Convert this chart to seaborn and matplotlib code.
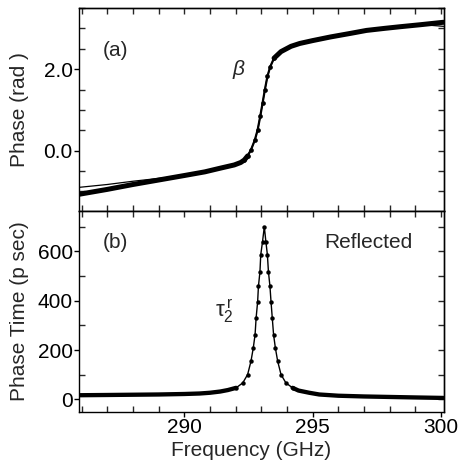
import matplotlib
matplotlib.use("Agg")
import numpy as np
import pandas as pd
import matplotlib.pyplot as plt
import seaborn as sns
from matplotlib.ticker import MultipleLocator

# ---- data ----
freq_phase = [285.9, 287.0, 288.0, 289.0, 290.0, 290.8, 291.4, 291.95, 292.2, 292.34,
              292.47, 292.6, 292.75, 292.86, 292.96, 293.05, 293.14, 293.24, 293.35,
              293.5, 293.77, 294.16, 294.5, 295.0, 295.7, 296.5, 297.1, 297.8, 298.4,
              299.2, 300.1]
phase = [-1.07, -0.95, -0.83, -0.72, -0.61, -0.52, -0.43, -0.35, -0.29, -0.23,
         -0.13, 0.02, 0.26, 0.51, 0.84, 1.16, 1.49, 1.82, 2.06,
         2.27, 2.43, 2.56, 2.63, 2.70, 2.79, 2.88, 2.95, 3.00, 3.04,
         3.09, 3.15]

freq_fit = [285.9, 287.0, 288.0, 289.0, 290.0, 291.0, 291.95, 292.34, 292.6, 292.75,
            292.86, 292.96, 293.05, 293.14, 293.24, 293.35, 293.5, 293.77, 294.16,
            294.5, 295.7, 297.1, 298.4, 299.5, 300.1]
phase_fit = [-0.90, -0.83, -0.75, -0.68, -0.61, -0.48, -0.34, -0.23, 0.02, 0.26,
             0.51, 0.84, 1.16, 1.49, 1.82, 2.06, 2.27, 2.43, 2.56,
             2.63, 2.79, 2.95, 3.03, 3.08, 3.05]

freq_tau = [285.9, 287.0, 288.0, 289.0, 290.0, 290.6, 291.0, 291.4, 291.7, 292.02,
            292.28, 292.47, 292.60, 292.69, 292.76, 292.80, 292.86, 292.89, 292.95,
            292.98, 293.05, 293.12, 293.18, 293.24, 293.28, 293.34, 293.38, 293.43,
            293.48, 293.55, 293.64, 293.77, 293.96, 294.22, 294.45, 294.87, 295.26,
            296.0, 297.0, 298.0, 299.0, 300.1]
tau = [17, 18, 19, 20, 22, 24, 27, 32, 38, 47,
       67, 101, 155, 209, 263, 330, 397, 458, 518,
       586, 640, 700, 640, 586, 518, 458, 397, 330,
       263, 209, 155, 101, 67, 47, 36, 27, 20,
       15, 12, 10, 8, 6]

x_ticks = [290, 295, 300]
phase_ticks = [0.0, 2.0]
phase_ticklabels = ["0.0", "2.0"]
tau_ticks = [0, 200, 400, 600]

# ---- style ----
sns.set_style("ticks")
plt.rcParams['font.family'] = ['Liberation Sans', 'DejaVu Sans']
plt.rcParams['mathtext.fontset'] = 'custom'
plt.rcParams['mathtext.rm'] = 'Liberation Sans'
plt.rcParams['mathtext.it'] = 'Liberation Sans:italic'
plt.rcParams['axes.linewidth'] = 1.0
plt.rcParams['lines.solid_capstyle'] = 'round'
plt.rcParams['lines.solid_joinstyle'] = 'round'

FS = 15
W, H = 463, 466
fig = plt.figure(figsize=(W / 100, H / 100), dpi=100)
L, Rr = 79 / W, 444 / W
ax1 = fig.add_axes([L, 1 - 211 / H, Rr - L, (211 - 8) / H])
ax2 = fig.add_axes([L, 1 - 412 / H, Rr - L, (412 - 211) / H])

df_p = pd.DataFrame({"f": freq_phase, "phase": phase})
df_fit = pd.DataFrame({"f": freq_fit, "phase": phase_fit})
df_t = pd.DataFrame({"f": freq_tau, "tau": tau})

# top panel: thin fit line + measured (thick where dense, dotted on steep part)
sns.lineplot(data=df_fit, x="f", y="phase", ax=ax1, color="k", linewidth=0.9,
             legend=False)
for part in (df_p[df_p.f <= 292.47], df_p[df_p.f >= 293.5]):
    sns.lineplot(data=part, x="f", y="phase", ax=ax1, color="k", linewidth=3.6,
                 legend=False)
steep = df_p[(df_p.f >= 292.34) & (df_p.f <= 293.5)]
sns.lineplot(data=steep, x="f", y="phase", ax=ax1, color="k", linewidth=1.6,
             marker="o", markersize=3.4, markeredgewidth=0, legend=False)

# bottom panel
for part in (df_t[df_t.f <= 292.02], df_t[df_t.f >= 294.22]):
    sns.lineplot(data=part, x="f", y="tau", ax=ax2, color="k", linewidth=3.1,
                 legend=False)
peak = df_t[(df_t.f >= 292.02) & (df_t.f <= 294.22)]
sns.lineplot(data=peak, x="f", y="tau", ax=ax2, color="k", linewidth=1.0,
             marker="o", markersize=3.2, markeredgewidth=0, legend=False)

xlim = (285.9, 300.12)
for ax in (ax1, ax2):
    ax.set_xlim(*xlim)
    ax.set_xticks(x_ticks)
    ax.xaxis.set_minor_locator(MultipleLocator(1))
    ax.tick_params(axis="both", which="major", direction="out", length=3.5,
                   width=1.0, labelsize=FS, pad=1, colors="k")
    ax.tick_params(axis="both", which="minor", direction="in", length=4.5,
                   width=1.0)
    for s in ax.spines.values():
        s.set_visible(True)
        s.set_color("k")
    # inward ticks on the top and right sides
    sx = ax.secondary_xaxis("top")
    sx.set_xticks(x_ticks)
    sx.xaxis.set_minor_locator(MultipleLocator(1))
    sx.tick_params(which="both", direction="in", length=4.5, width=1.0,
                   labeltop=False)
    sy = ax.secondary_yaxis("right")
    sy.tick_params(which="both", direction="in", length=4.5, width=1.0,
                   labelright=False)
    ax._sy = sy

ax1.set_ylim(-1.48, 3.5)
ax1.set_yticks(phase_ticks)
ax1.set_yticklabels(phase_ticklabels)
ax1.yaxis.set_minor_locator(MultipleLocator(0.5))
ax1._sy.set_yticks(phase_ticks)
ax1._sy.yaxis.set_minor_locator(MultipleLocator(0.5))
ax1.tick_params(axis="x", labelbottom=False)
ax1.set_xlabel("")
ax1.set_ylabel("Phase (rad )", fontsize=FS)
ax1.yaxis.set_label_coords(-0.138, 0.5)

ax2.set_ylim(-51, 764)
ax2.set_yticks(tau_ticks)
ax2.yaxis.set_minor_locator(MultipleLocator(100))
ax2._sy.set_yticks(tau_ticks)
ax2._sy.yaxis.set_minor_locator(MultipleLocator(100))
ax2.set_xticklabels([str(t) for t in x_ticks])
ax2.set_xlabel("Frequency (GHz)", fontsize=FS)
ax2.xaxis.set_label_coords(0.471, -0.145)
ax2.set_ylabel("Phase Time (p sec)", fontsize=FS)
ax2.yaxis.set_label_coords(-0.138, 0.5)

# annotations
ax1.text(0.066, 0.793, "(a)", transform=ax1.transAxes, fontsize=FS,
         ha="left", va="center")
ax1.text(0.437, 0.695, r"$\beta$", transform=ax1.transAxes, fontsize=FS,
         ha="center", va="center")
ax2.text(0.066, 0.841, "(b)", transform=ax2.transAxes, fontsize=FS,
         ha="left", va="center")
ax2.text(0.915, 0.841, "Reflected", transform=ax2.transAxes, fontsize=FS,
         ha="right", va="center")
ax2.text(0.373, 0.50, r"$\mathrm{\tau}_{2}^{\,\mathrm{r}}$", transform=ax2.transAxes,
         fontsize=FS + 1, ha="left", va="center")

fig.savefig("out.png", dpi=100)
